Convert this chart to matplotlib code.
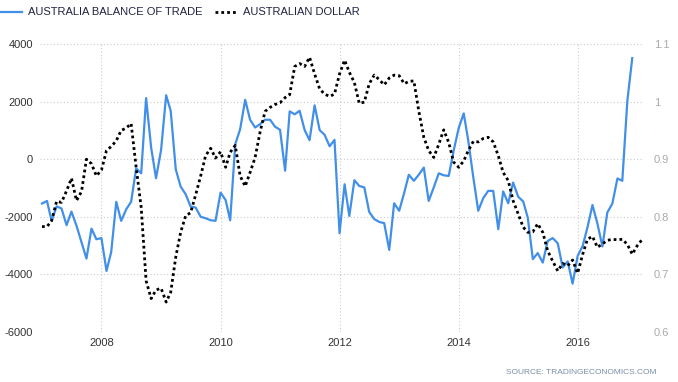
import pandas as pd
import matplotlib.pyplot as plt
import matplotlib.dates as mdates
from matplotlib.lines import Line2D

# ==============================
# Data (monthly)
# ==============================
trade = [
    -1540, -1450, -2140, -1640, -1710, -2290, -1820, -2310, -2890, -3450, -2410, -2780,
    -2740, -3880, -3220, -1480, -2140, -1740, -1480, -320, -490, 2120, 400, -660,
    320, 2220, 1680, -350, -950, -1220, -1640, -1680, -2000, -2050, -2120, -2140,
    -1160, -1420, -2120, 520, 1040, 2060, 1370, 1100, 1220, 1370, 1370, 1130,
    1020, -400, 1660, 1560, 1680, 1010, 660, 1870, 1010, 850, 450, 670,
    -2570, -870, -1970, -730, -930, -980, -1830, -2080, -2180, -2220, -3150, -1530,
    -1790, -1160, -540, -750, -540, -290, -1450, -980, -490, -560, -580, 290,
    1080, 1590, 640, -640, -1790, -1350, -1100, -1100, -2430, -1120, -1530, -810,
    -1300, -1470, -2030, -3470, -3260, -3590, -2840, -2740, -2920, -3760, -3550, -4320,
    -3360, -3010, -2370, -1590, -2230, -3030, -1850, -1540, -670, -750, 2030, 3510,
]

aud = [
    0.783, 0.783, 0.793, 0.827, 0.825, 0.845, 0.867, 0.828, 0.844, 0.900, 0.892, 0.871,
    0.881, 0.915, 0.922, 0.932, 0.950, 0.954, 0.962, 0.886, 0.816, 0.689, 0.658, 0.673,
    0.676, 0.652, 0.669, 0.730, 0.773, 0.802, 0.807, 0.838, 0.871, 0.906, 0.919, 0.902,
    0.913, 0.886, 0.912, 0.924, 0.871, 0.853, 0.877, 0.903, 0.948, 0.983, 0.990, 0.995,
    0.998, 1.007, 1.012, 1.061, 1.066, 1.061, 1.077, 1.048, 1.022, 1.013, 1.009, 1.013,
    1.048, 1.072, 1.051, 1.033, 0.997, 0.999, 1.031, 1.046, 1.038, 1.029, 1.041, 1.046,
    1.045, 1.031, 1.035, 1.036, 0.984, 0.938, 0.915, 0.903, 0.926, 0.951, 0.929, 0.895,
    0.886, 0.897, 0.915, 0.931, 0.930, 0.936, 0.938, 0.930, 0.906, 0.877, 0.863, 0.828,
    0.805, 0.782, 0.773, 0.774, 0.788, 0.773, 0.741, 0.723, 0.706, 0.719, 0.715, 0.725,
    0.702, 0.735, 0.761, 0.766, 0.747, 0.753, 0.759, 0.761, 0.760, 0.761, 0.752, 0.735,
    0.750, 0.761,
]

trade_dates = pd.date_range("2007-01-01", periods=len(trade), freq="MS")
aud_dates = pd.date_range("2007-01-01", periods=len(aud), freq="MS")

left_ticks = [4000, 2000, 0, -2000, -4000, -6000]
right_ticks = [1.1, 1.0, 0.9, 0.8, 0.7, 0.6]
right_labels = ["1.1", "1", "0.9", "0.8", "0.7", "0.6"]
year_ticks = [2008, 2010, 2012, 2014, 2016]

BLUE = "#418fe8"
GRID = "#cccccc"
DOTS = (0, (1, 1.1))

# ==============================
# Plot
# ==============================
plt.rcParams["font.family"] = ["Liberation Sans", "DejaVu Sans"]

W, H = 678, 382
fig = plt.figure(figsize=(W / 100, H / 100), dpi=100)
ax = fig.add_axes([40 / W, 1 - 332 / H, 603 / W, 288 / H])
ax2 = ax.twinx()

ax.plot(trade_dates, trade, color=BLUE, linewidth=1.6)
ax2.plot(aud_dates, aud, color="black", linewidth=2.0, linestyle=DOTS)

ax.set_ylim(-6000, 4000)
ax2.set_ylim(0.6, 1.1)
ax.set_xlim(pd.Timestamp("2006-12-20"), pd.Timestamp("2017-02-05"))

ax.set_yticks(left_ticks)
ax.set_yticklabels([str(t) for t in left_ticks])
ax2.set_yticks(right_ticks)
ax2.set_yticklabels(right_labels)
ax.set_xticks([pd.Timestamp(f"{y}-01-01") for y in year_ticks])
ax.xaxis.set_major_formatter(mdates.DateFormatter("%Y"))

for a in (ax, ax2):
    for s in a.spines.values():
        s.set_visible(False)
    a.tick_params(length=0)

ax.tick_params(axis="y", labelsize=8, colors="#333333", pad=5)
ax.tick_params(axis="x", labelsize=8, colors="#333333", pad=4)
ax2.tick_params(axis="y", labelsize=8, colors="#aaaaaa", pad=8)

ax.grid(True, color=GRID, linestyle=(0, (1, 2)), linewidth=0.8)
ax.set_axisbelow(True)

# legend along the top (pixel positions)
def px(x, y):
    return x / W, 1 - y / H

legend_y = 12
fig.add_artist(Line2D([px(1, 0)[0], px(22, 0)[0]], [px(0, legend_y)[1]] * 2,
                      color=BLUE, linewidth=1.6))
fig.text(*px(28, legend_y), "AUSTRALIA BALANCE OF TRADE", ha="left", va="center",
         fontsize=8, color="#222244")
fig.add_artist(Line2D([px(215, 0)[0], px(238, 0)[0]], [px(0, legend_y)[1]] * 2,
                      color="black", linewidth=2.0, linestyle=DOTS))
fig.text(*px(243, legend_y), "AUSTRALIAN DOLLAR", ha="left", va="center",
         fontsize=8, color="#222244")

fig.text(*px(657, 373), "SOURCE: TRADINGECONOMICS.COM",
         ha="right", va="center", fontsize=6, color="#7a8fa8")

fig.savefig("out.png", dpi=100)
